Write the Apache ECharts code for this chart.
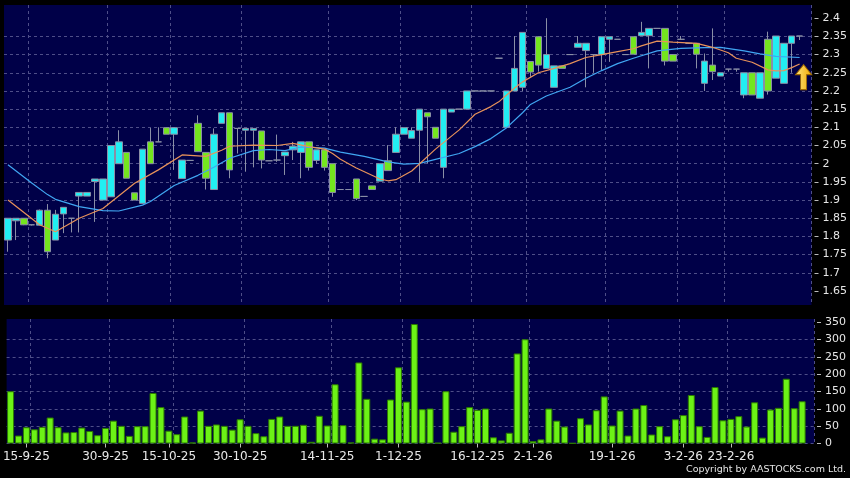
<!DOCTYPE html>
<html>
<head>
<meta charset="utf-8">
<title>Daily chart</title>
<script src="https://cdn.jsdelivr.net/npm/echarts@6/dist/echarts.min.js"></script>
<style>
  html, body { margin: 0; padding: 0; background: #000; }
  #chart { width: 850px; height: 478px; }
</style>
</head>
<body>
<div id="chart"></div>
<script>
// daily prices, one entry per trading day
const opens = [
  1.79, 1.843, 1.85, 1.832, 1.831, 1.872, 1.79, 1.862, 1.85, 1.911,
  1.911, 1.951, 1.9, 1.909, 2.0, 2.031, 1.92, 1.891, 2.06, 2.06,
  2.099, 2.081, 1.959, 2.009, 2.111, 2.031, 1.929, 2.111, 2.14, 2.097,
  2.092, 2.092, 2.09, 2.008, 2.01, 2.022, 2.038, 2.031, 2.06, 2.009,
  2.038, 2.0, 1.929, 1.929, 1.958, 1.91, 1.939, 1.952, 2.008, 2.031,
  2.081, 2.07, 2.092, 2.14, 2.1, 1.99, 2.142, 2.15, 2.15, 2.2,
  2.2, 2.2, 2.29, 2.1, 2.2, 2.21, 2.281, 2.349, 2.262, 2.21,
  2.269, 2.3, 2.32, 2.311, 2.3, 2.3, 2.342, 2.342, 2.3, 2.349,
  2.352, 2.352, 2.372, 2.372, 2.3, 2.342, 2.331, 2.331, 2.221, 2.271,
  2.241, 2.26, 2.26, 2.189, 2.25, 2.18, 2.342, 2.235, 2.221, 2.331,
  2.351
];
const closes = [
  1.85, 1.85, 1.832, 1.832, 1.872, 1.758, 1.861, 1.88, 1.85, 1.921,
  1.921, 1.958, 1.958, 2.05, 2.06, 1.96, 1.9, 2.04, 2.0, 2.06,
  2.081, 2.099, 2.01, 2.009, 2.033, 1.96, 2.081, 2.14, 1.983, 2.097,
  2.097, 2.097, 2.01, 2.008, 2.01, 2.032, 2.048, 2.06, 1.99, 2.038,
  1.99, 1.921, 1.929, 1.929, 1.904, 1.91, 1.929, 2.0, 1.981, 2.081,
  2.099, 2.091, 2.15, 2.129, 2.07, 2.15, 2.15, 2.15, 2.2, 2.2,
  2.2, 2.2, 2.29, 2.2, 2.262, 2.361, 2.252, 2.271, 2.3, 2.269,
  2.262, 2.3, 2.331, 2.331, 2.3, 2.349, 2.349, 2.342, 2.3, 2.301,
  2.361, 2.372, 2.372, 2.282, 2.282, 2.342, 2.331, 2.301, 2.282, 2.253,
  2.25, 2.26, 2.26, 2.25, 2.189, 2.25, 2.2, 2.351, 2.331, 2.351,
  2.351
];
const lows = [
  1.758, 1.79, 1.831, 1.83, 1.831, 1.74, 1.79, 1.809, 1.811, 1.811,
  1.911, 1.84, 1.9, 1.909, 2.0, 1.96, 1.9, 1.89, 2.0, 2.06,
  2.081, 1.983, 1.959, 2.009, 2.033, 1.929, 1.929, 2.111, 1.96, 2.028,
  1.978, 1.99, 1.987, 2.008, 2.005, 1.969, 2.01, 1.96, 1.981, 2.0,
  1.981, 1.909, 1.929, 1.929, 1.9, 1.91, 1.929, 1.952, 1.981, 2.031,
  2.081, 2.07, 1.95, 2.0, 2.07, 1.96, 2.142, 2.15, 2.15, 2.2,
  2.2, 2.2, 2.29, 2.1, 2.2, 2.2, 2.239, 2.253, 2.262, 2.21,
  2.262, 2.3, 2.32, 2.21, 2.25, 2.258, 2.28, 2.342, 2.3, 2.301,
  2.352, 2.262, 2.372, 2.27, 2.282, 2.342, 2.33, 2.262, 2.2, 2.23,
  2.241, 2.253, 2.253, 2.18, 2.189, 2.18, 2.19, 2.235, 2.221, 2.25,
  2.34
];
const highs = [
  1.85, 1.85, 1.85, 1.832, 1.874, 1.889, 1.873, 1.88, 1.85, 1.921,
  1.921, 1.958, 1.958, 2.05, 2.092, 2.031, 1.92, 2.04, 2.098, 2.1,
  2.099, 2.099, 2.01, 2.009, 2.133, 2.031, 2.097, 2.14, 2.14, 2.097,
  2.097, 2.097, 2.09, 2.008, 2.08, 2.032, 2.06, 2.06, 2.06, 2.038,
  2.038, 2.0, 1.929, 1.929, 1.958, 1.91, 1.939, 2.0, 2.051, 2.1,
  2.099, 2.1, 2.15, 2.14, 2.1, 2.15, 2.15, 2.15, 2.2, 2.2,
  2.2, 2.2, 2.29, 2.2, 2.351, 2.361, 2.281, 2.349, 2.4, 2.269,
  2.269, 2.3, 2.351, 2.331, 2.3, 2.349, 2.349, 2.342, 2.3, 2.349,
  2.39, 2.372, 2.372, 2.372, 2.3, 2.351, 2.331, 2.331, 2.303, 2.372,
  2.25, 2.26, 2.26, 2.25, 2.25, 2.25, 2.363, 2.351, 2.331, 2.351,
  2.351
];
// volume (thousand shares)
const volumes = [
  151, 23, 47, 41, 48, 75, 47, 32, 33, 46,
  36, 24, 45, 66, 51, 22, 50, 50, 146, 105,
  37, 27, 78, 3, 95, 51, 55, 51, 40, 70,
  51, 30, 21, 71, 78, 51, 51, 54, 5, 80,
  52, 171, 53, 3, 234, 129, 14, 12, 127, 220,
  121, 345, 99, 101, 2, 151, 34, 50, 105, 97,
  101, 18, 9, 31, 260, 301, 7, 12, 101, 66,
  49, 1, 73, 55, 96, 136, 52, 95, 23, 101,
  111, 26, 50, 21, 70, 82, 140, 50, 19, 163,
  67, 71, 79, 49, 119, 17, 98, 103, 187, 102,
  122
];
// moving averages, read at these day indexes
const maShortIdx = [0, 4, 6, 9, 12, 16, 19, 22, 25, 27, 28, 31, 34, 36, 38, 40, 41, 42, 44, 47,
  48, 49, 51, 52, 54, 57, 59, 61, 62, 64, 65, 67, 69, 71, 73, 75, 77, 79, 80, 82,
  84, 87, 89, 91, 92, 94, 96, 97, 98, 99, 100];
const maShortVal = [1.90, 1.832, 1.813, 1.85, 1.877, 1.946, 1.983, 2.024, 2.02, 2.037,
  2.048, 2.051, 2.05, 2.056, 2.047, 2.04, 2.028, 2.012, 1.988, 1.958,
  1.953, 1.956, 1.98, 2.0, 2.04, 2.093, 2.136, 2.157, 2.17, 2.208,
  2.225, 2.25, 2.262, 2.275, 2.292, 2.30, 2.308, 2.316, 2.324, 2.337,
  2.334, 2.331, 2.32, 2.305, 2.29, 2.279, 2.258, 2.255, 2.256, 2.264, 2.274];
const maLongIdx = [0, 3, 5, 6, 9, 12, 14, 17, 18, 21, 24, 26, 28, 31, 33, 35, 37, 40, 42, 45,
  48, 50, 52, 54, 57, 59, 61, 63, 65, 66, 68, 71, 73, 75, 77, 79, 82, 85, 88, 90,
  93, 95, 97, 100];
const maLongVal = [1.997, 1.947, 1.915, 1.902, 1.882, 1.871, 1.87, 1.886, 1.896, 1.94,
  1.968, 1.99, 2.015, 2.036, 2.039, 2.036, 2.046, 2.043, 2.032, 2.02,
  2.005, 1.999, 2.001, 2.012, 2.028, 2.047, 2.069, 2.099, 2.14, 2.163,
  2.186, 2.21, 2.235, 2.256, 2.275, 2.29, 2.31, 2.317, 2.319, 2.32,
  2.31, 2.302, 2.295, 2.292];

// axis labels
const dateLabels = ['15-9-25', '30-9-25', '15-10-25', '30-10-25', '14-11-25', '1-12-25',
  '16-12-25', '2-1-26', '19-1-26', '3-2-26', '23-2-26'];
const dateIdx = [2, 12, 20, 29, 40, 49, 59, 66, 76, 85, 91];
const vLineIdx = [3, 13, 21, 30, 41, 50, 59, 66, 76, 85, 91];
const priceTicks = [1.65, 1.7, 1.75, 1.8, 1.85, 1.9, 1.95, 2, 2.05, 2.1, 2.15, 2.2, 2.25, 2.3, 2.35, 2.4];
const volTicks = [0, 50, 100, 150, 200, 250, 300, 350];

// one spare slot on the right, like the original
const days = opens.map((_, i) => String(i)).concat([String(opens.length)]);
const candles = opens.map((o, i) => [o, closes[i], lows[i], highs[i]]);

const gridLine = { color: '#4e4e88', type: [3, 3], width: 1 };
const font = 'DejaVu Sans';

const chart = echarts.init(document.getElementById('chart'), null, { renderer: 'canvas' });

const xBase = (gridIndex) => ({
  type: 'category',
  gridIndex: gridIndex,
  data: days,
  boundaryGap: true,
  axisLine: { show: false },
  axisTick: { show: false },
  axisLabel: { show: false },
  splitLine: { show: true, interval: (i) => vLineIdx.includes(i), lineStyle: gridLine },
});

const volAxis = xBase(1);
volAxis.axisTick = {
  show: true, alignWithLabel: true, length: 4,
  interval: (i) => dateIdx.includes(i),
  lineStyle: { color: '#bbbbbb' },
};
volAxis.axisLabel = {
  show: true, color: '#e8e8e8', fontSize: 12, fontFamily: font, margin: 7,
  interval: (i) => dateIdx.includes(i),
  formatter: (v) => dateLabels[dateIdx.indexOf(Number(v))] || '',
};

chart.setOption({
  animation: false,
  backgroundColor: '#000000',
  textStyle: { fontFamily: font },
  grid: [
    { left: 4, right: 36, top: 5, height: 300, show: true, backgroundColor: '#000048', borderWidth: 0 },
    { left: 4, right: 36, top: 319, height: 124.5, show: true, backgroundColor: '#000048', borderWidth: 0 },
  ],
  xAxis: [xBase(0), volAxis],
  yAxis: [
    {
      type: 'value', gridIndex: 0, position: 'right', offset: 3,
      min: 1.6115, max: 2.4363, splitNumber: 16,
      axisLine: { show: false },
      axisTick: { show: true, length: 4, customValues: priceTicks, lineStyle: { color: '#bbbbbb' } },
      axisLabel: { color: '#e6e6e6', fontSize: 11, margin: 8, customValues: priceTicks },
      splitLine: { show: true, showMinLine: false, showMaxLine: false, lineStyle: gridLine },
    },
    {
      type: 'value', gridIndex: 1, position: 'right', offset: 3,
      min: 0, max: 359.5, splitNumber: 7,
      axisLine: { show: false },
      axisTick: { show: true, length: 4, customValues: volTicks, lineStyle: { color: '#bbbbbb' } },
      axisLabel: { color: '#e6e6e6', fontSize: 11, margin: 8, customValues: volTicks },
      splitLine: { show: true, showMaxLine: false, lineStyle: gridLine },
    },
  ],
  series: [
    {
      name: 'price',
      type: 'candlestick',
      xAxisIndex: 0,
      yAxisIndex: 0,
      barWidth: 7,
      data: candles,
      itemStyle: {
        color: '#22eef2',
        color0: '#74e61e',
        borderColor: '#8a8fa6',
        borderColor0: '#8a8fa6',
        borderColorDoji: '#8a8fa6',
        borderWidth: 1,
      },
      markPoint: {
        silent: true,
        symbol: 'path://M8,0L16,10L11,10L11,25L5,25L5,10L0,10Z',
        symbolSize: [16, 25],
        symbolOffset: [4, 0],
        label: { show: false },
        itemStyle: {
          color: new echarts.graphic.LinearGradient(0, 0, 1, 0, [
            { offset: 0, color: '#ffe680' },
            { offset: 1, color: '#f0a800' },
          ]),
          borderColor: '#a06a00',
          borderWidth: 1,
        },
        data: [{ coord: [String(opens.length - 1), 2.238] }],
      },
    },
    {
      name: 'MA long',
      type: 'line',
      xAxisIndex: 0,
      yAxisIndex: 0,
      symbol: 'none',
      data: maLongIdx.map((d, i) => [String(d), maLongVal[i]]),
      lineStyle: { color: '#40a6f2', width: 1.2 },
    },
    {
      name: 'MA short',
      type: 'line',
      xAxisIndex: 0,
      yAxisIndex: 0,
      symbol: 'none',
      data: maShortIdx.map((d, i) => [String(d), maShortVal[i]]),
      lineStyle: { color: '#e8925a', width: 1.2 },
    },
    {
      name: 'volume',
      type: 'bar',
      xAxisIndex: 1,
      yAxisIndex: 1,
      barWidth: 7,
      data: volumes,
      itemStyle: { color: '#6cf216', borderColor: '#2c7a00', borderWidth: 1 },
    },
  ],
  graphic: [
    {
      type: 'text',
      right: 4,
      top: 465,
      style: {
        text: 'Copyright by AASTOCKS.com Ltd.',
        fill: '#e6e6e6',
        font: '9.5px "DejaVu Sans"',
      },
    },
  ],
});
</script>
</body>
</html>
